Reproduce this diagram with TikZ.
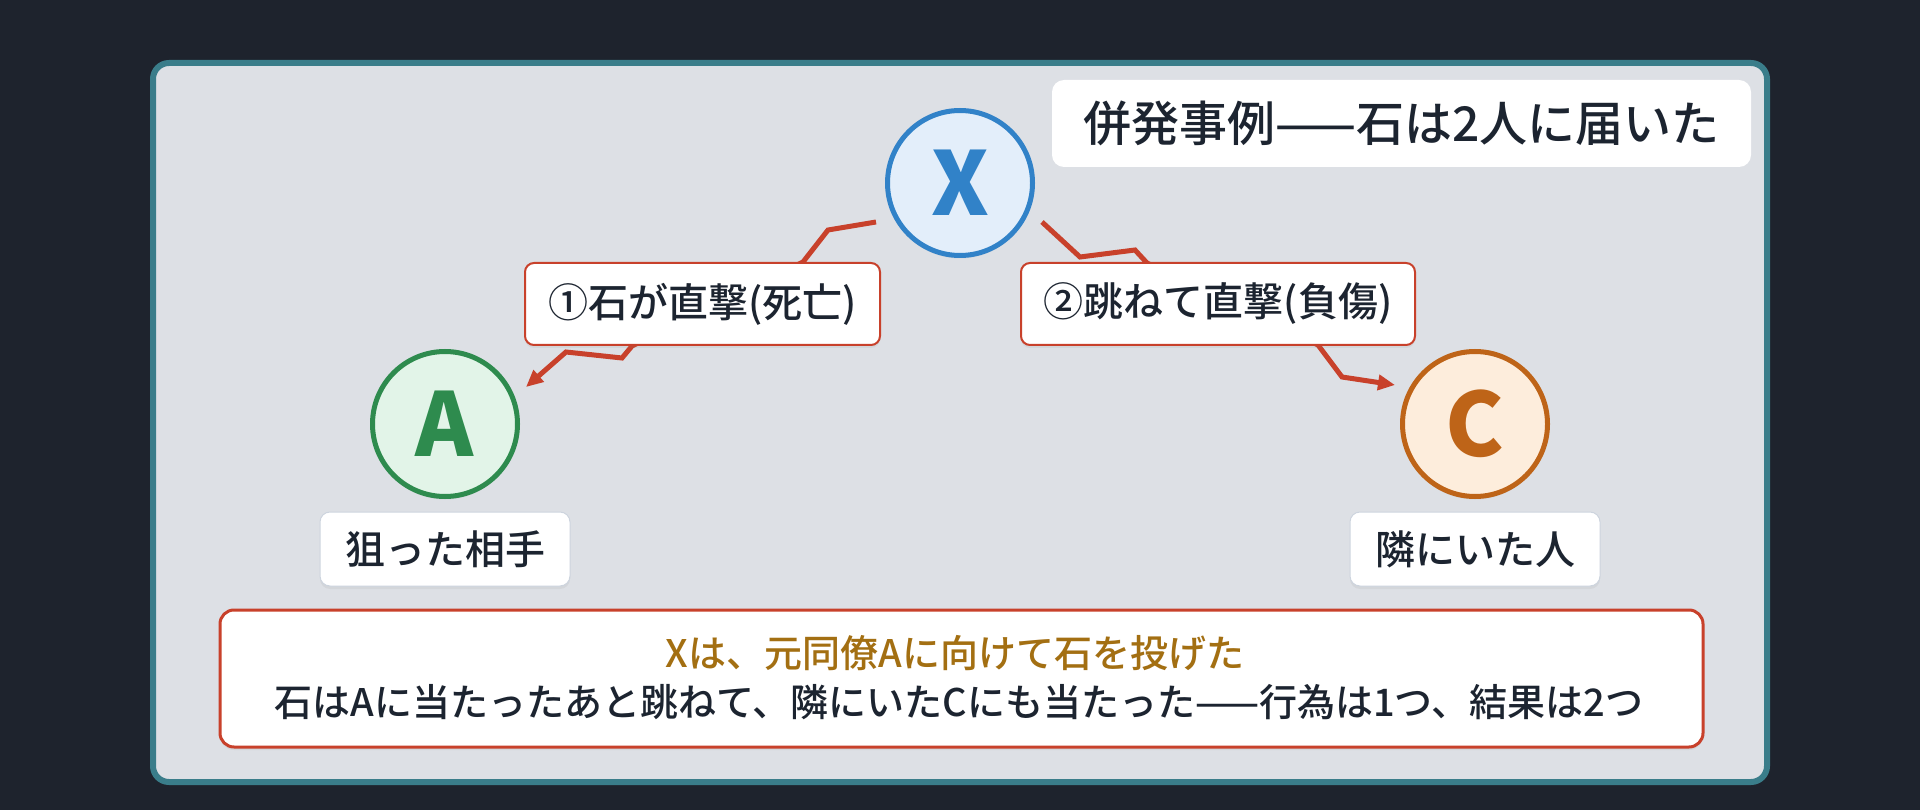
\documentclass[tikz,border=0pt]{standalone}
\usepackage{fontspec}
\setmainfont{Noto Sans CJK JP}
\newfontfamily\mediumjp{Noto Sans CJK JP Medium}
\usetikzlibrary{arrows.meta,shadows}
\definecolor{bg}{HTML}{1E232D}
\definecolor{panel}{HTML}{DDE0E5}
\definecolor{panelline}{HTML}{3A7D8A}
\definecolor{ered}{HTML}{C8412B}
\definecolor{ink}{HTML}{1C2430}
\definecolor{gold}{HTML}{A36F12}
\definecolor{xblue}{HTML}{3182C8}
\definecolor{xfill}{HTML}{E3EEFA}
\definecolor{agreen}{HTML}{2E8B4E}
\definecolor{afill}{HTML}{E2F4E8}
\definecolor{corange}{HTML}{BE6418}
\definecolor{cfill}{HTML}{FDEDDC}
\definecolor{softline}{HTML}{CDD4DE}
\tikzset{
  softshadow/.style={drop shadow={opacity=0.10,shadow xshift=0pt,shadow yshift=-3pt}},
  person/.style={circle,line width=5pt,minimum size=145pt,inner sep=0pt,
    font=\fontsize{88}{88}\selectfont\bfseries,softshadow},
  tagbox/.style={rectangle,rounded corners=9pt,fill=white,draw=ered,line width=2pt,
    inner sep=0pt,font=\mediumjp\fontsize{40}{40}\selectfont,text=ink,softshadow},
  rolebox/.style={rectangle,rounded corners=10pt,fill=white,draw=softline,line width=1pt,
    inner sep=0pt,minimum width=250pt,minimum height=74pt,
    font=\mediumjp\fontsize{40}{40}\selectfont,text=ink,softshadow},
  zig/.style={draw=ered,line width=5pt,line join=miter,
    -{Triangle[length=17pt,width=15pt]}},
}
\begin{document}
\begin{tikzpicture}[x=1pt,y=-1pt]
\useasboundingbox (0,0) rectangle (1920,810);
\fill[bg] (0,0) rectangle (1920,810);
\draw[draw=panelline,line width=6pt,fill=panel,rounded corners=16pt] (153,63) rectangle (1767,782);

% persons
\node[person,draw=xblue,fill=xfill,text=xblue] (X) at (960,183) {X};
\node[person,draw=agreen,fill=afill,text=agreen] (A) at (445,424) {A};
\node[person,draw=corange,fill=cfill,text=corange] (C) at (1475,424) {C};

% connectors
\draw[zig] ([shift={(-84,39)}]X.center) -- (828,230) -- (803,262) -- (632,346)
  -- (622,358) -- (566,352) -- ([shift={(81,-37)}]A.center);
\draw[zig] ([shift={(82,39)}]X.center) -- (1080,257) -- (1135,250) -- (1147,263)
  -- (1318,345) -- (1342,377) -- ([shift={(-80,-39)}]C.center);

% labels on connectors
\node[tagbox,minimum width=355pt,minimum height=82pt] (l1) at (702.5,304) {①石が直撃(死亡)};
\node[tagbox,minimum width=394pt,minimum height=82pt] (l2) at (1218,304) {②跳ねて直撃(負傷)};

% role labels
\node[rolebox] (ra) at (445,549) {狙った相手};
\node[rolebox] (rc) at (1475,549) {隣にいた人};

% title
\node[rectangle,rounded corners=12pt,fill=white,inner sep=0pt,
  minimum width=699pt,minimum height=87pt,font=\mediumjp\fontsize{48}{48}\selectfont,text=ink]
  (title) at (1401.5,123.5) {併発事例——石は2人に届いた};

% bottom note
\node[rectangle,rounded corners=14pt,fill=white,draw=ered,line width=3pt,
  minimum width=1483pt,minimum height=137pt,softshadow] (note) at (961.5,678.5) {};
\node[font=\mediumjp\fontsize{38}{38}\selectfont,text=gold] (n1) at (955,653) {Xは、元同僚Aに向けて石を投げた};
\node[font=\mediumjp\fontsize{38}{38}\selectfont,text=ink] (n2) at (959,702) {石はAに当たったあと跳ねて、隣にいたCにも当たった——行為は1つ、結果は2つ};
\end{tikzpicture}
\end{document}
